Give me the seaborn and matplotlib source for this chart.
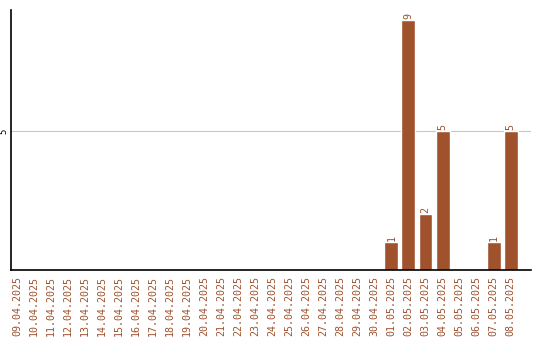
import matplotlib
matplotlib.use("Agg")
import matplotlib.pyplot as plt
import seaborn as sns
import pandas as pd

dates = ["09.04.2025", "10.04.2025", "11.04.2025", "12.04.2025", "13.04.2025",
         "14.04.2025", "15.04.2025", "16.04.2025", "17.04.2025", "18.04.2025",
         "19.04.2025", "20.04.2025", "21.04.2025", "22.04.2025", "23.04.2025",
         "24.04.2025", "25.04.2025", "26.04.2025", "27.04.2025", "28.04.2025",
         "29.04.2025", "30.04.2025", "01.05.2025", "02.05.2025", "03.05.2025",
         "04.05.2025", "05.05.2025", "06.05.2025", "07.05.2025", "08.05.2025"]
values = [0, 0, 0, 0, 0, 0, 0, 0, 0, 0,
          0, 0, 0, 0, 0, 0, 0, 0, 0, 0,
          0, 0, 1, 9, 2, 5, 0, 0, 1, 5]
y_ticks = [5]

color = "#A0522D"
df = pd.DataFrame({"date": dates, "value": values})

sns.set_style("white")
plt.rcParams["font.family"] = ["DejaVu Sans Mono"]

fig = plt.figure(figsize=(5.4, 3.4), dpi=100)
ax = fig.add_axes([0.0204, 0.206, 0.963, 0.764])
sns.barplot(data=df, x="date", y="value", order=dates, color=color,
            saturation=1, width=0.82, ax=ax)

ax.set_xlim(-0.35, 30.2)
ax.set_ylim(0, 9.35)
ax.set_yticks(y_ticks)
ax.set_yticklabels([str(t) for t in y_ticks], rotation=90, fontsize=6.5,
                   va="center", color="black")
ax.yaxis.grid(True, color="#c8c8c8", linewidth=0.8)
ax.set_axisbelow(True)
ax.tick_params(axis="both", length=0, pad=2)
ax.set_xticks(range(len(dates)))
ax.set_xticklabels(dates, rotation=90, fontsize=7.2, color=color)
ax.tick_params(axis="x", pad=4)
ax.set_xlabel("")
ax.set_ylabel("")

for s in ["top", "right"]:
    ax.spines[s].set_visible(False)
for s in ["left", "bottom"]:
    ax.spines[s].set_color("black")
    ax.spines[s].set_linewidth(1.2)

cont = ax.containers[0]
labels = [str(v) if v else "" for v in values]
ax.bar_label(cont, labels=labels, rotation=90, fontsize=7.2, color=color, padding=1)

fig.savefig("out.png", dpi=100)
